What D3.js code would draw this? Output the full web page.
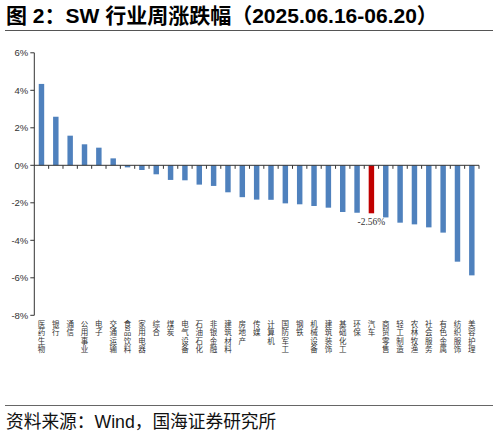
<!DOCTYPE html>
<html>
<head>
<meta charset="utf-8">
<script src="https://cdn.jsdelivr.net/npm/d3@7"></script>
<style>
  body { margin: 0; background: #fff; }
  svg { display: block; }
</style>
</head>
<body>
<div id="viz"></div>
<script>
// data
const industries = ['医药生物', '银行', '通信', '公用事业', '电子', '交通运输', '食品饮料', '家用电器', '综合', '煤炭',
  '电气设备', '石油石化', '非银金融', '建筑材料', '房地产', '传媒', '计算机', '国防军工', '钢铁', '机械设备',
  '建筑装饰', '基础化工', '环保', '汽车', '商贸零售', '轻工制造', '农林牧渔', '社会服务', '有色金属', '纺织服饰', '美容护理']
const changes = [4.34, 2.59, 1.58, 1.12, 0.94, 0.37, -0.11, -0.25, -0.48, -0.78,
  -0.80, -1.03, -1.10, -1.44, -1.70, -1.83, -1.84, -2.03, -2.08, -2.17,
  -2.26, -2.49, -2.53, -2.56, -2.78, -3.06, -3.15, -3.31, -3.59, -5.14, -5.87]
const yTicks = [6, 4, 2, 0, -2, -4, -6, -8]
const highlight = '汽车'

let svgWidth = 498
let svgHeight = 436

let margin = { left: 34.3, right: 19, top: 52.8, bottom: 120.7 }

const svg = d3.select('#viz')
  .append('svg')
  .attr('width', svgWidth)
  .attr('height', svgHeight)

// title + rules
svg.append('text')
  .attr('x', 6)
  .attr('y', 23)
  .attr('font-family', '"Liberation Sans", "Noto Sans CJK SC", sans-serif')
  .attr('font-weight', 'bold')
  .attr('font-size', 21)
  .attr('fill', '#000')
  .text('图 2：SW 行业周涨跌幅（2025.06.16-06.20）')

svg.append('line')
  .attr('x1', 5).attr('x2', 493)
  .attr('y1', 30.5).attr('y2', 30.5)
  .attr('stroke', '#555').attr('stroke-width', 1)

svg.append('line')
  .attr('x1', 5).attr('x2', 493)
  .attr('y1', 405.5).attr('y2', 405.5)
  .attr('stroke', '#666').attr('stroke-width', 1)

svg.append('text')
  .attr('x', 6)
  .attr('y', 428)
  .attr('font-family', '"Liberation Sans", "Noto Sans CJK SC", sans-serif')
  .attr('font-size', 17.7)
  .attr('fill', '#111')
  .text('资料来源：Wind，国海证券研究所')

// scales
let xScale = d3.scaleBand()
  .domain(industries)
  .range([margin.left, svgWidth - margin.right])
  .paddingInner(0.62)
  .paddingOuter(0.31)

let yScale = d3.scaleLinear()
  .domain([-8, 6])
  .range([svgHeight - margin.bottom, margin.top])

const step = xScale.step()

// y axis
svg.append('line')
  .attr('x1', margin.left).attr('x2', margin.left)
  .attr('y1', yScale(6)).attr('y2', yScale(-8))
  .attr('stroke', '#333').attr('stroke-width', 1)

svg.append('g')
  .selectAll('line')
  .data(yTicks)
  .join('line')
  .attr('x1', margin.left - 4)
  .attr('x2', margin.left)
  .attr('y1', d => yScale(d))
  .attr('y2', d => yScale(d))
  .attr('stroke', '#333')

svg.append('g')
  .selectAll('text')
  .data(yTicks)
  .join('text')
  .attr('x', margin.left - 6)
  .attr('y', d => yScale(d) + 3.3)
  .attr('text-anchor', 'end')
  .attr('font-family', '"Liberation Sans", Arial, sans-serif')
  .attr('font-size', 9.5)
  .attr('fill', '#333')
  .text(d => d + '%')

// bars
svg.append('g')
  .selectAll('rect')
  .data(industries)
  .join('rect')
  .attr('x', d => xScale(d))
  .attr('width', xScale.bandwidth())
  .attr('y', (d, i) => yScale(Math.max(0, changes[i])))
  .attr('height', (d, i) => Math.abs(yScale(changes[i]) - yScale(0)))
  .attr('fill', d => d == highlight ? '#c00000' : '#4f81bd')

// zero line with ticks at category boundaries
svg.append('line')
  .attr('x1', margin.left).attr('x2', svgWidth - margin.right)
  .attr('y1', yScale(0)).attr('y2', yScale(0))
  .attr('stroke', '#333').attr('stroke-width', 1)

svg.append('g')
  .selectAll('line')
  .data(industries)
  .join('line')
  .attr('x1', d => xScale(d) + xScale.bandwidth() / 2 + step / 2)
  .attr('x2', d => xScale(d) + xScale.bandwidth() / 2 + step / 2)
  .attr('y1', yScale(0))
  .attr('y2', yScale(0) + 3.5)
  .attr('stroke', '#333')

// value label on highlighted bar
let hi = industries.indexOf(highlight)
svg.append('text')
  .attr('x', xScale(highlight) + xScale.bandwidth() / 2)
  .attr('y', yScale(changes[hi]) + 12)
  .attr('text-anchor', 'middle')
  .attr('font-family', '"Liberation Serif", "Times New Roman", serif')
  .attr('font-size', 9.5)
  .attr('fill', '#333')
  .text(changes[hi].toFixed(2) + '%')

// vertical category labels (upright CJK, top to bottom)
svg.append('g')
  .selectAll('text')
  .data(industries)
  .join('text')
  .attr('x', d => xScale(d) + xScale.bandwidth() / 2)
  .attr('y', 320)
  .style('writing-mode', 'vertical-rl')
  .style('text-orientation', 'upright')
  .style('letter-spacing', '1px')
  .attr('font-family', '"Noto Sans CJK SC", sans-serif')
  .attr('font-size', 7.5)
  .attr('fill', '#333')
  .text(d => d)
</script>
</body>
</html>
